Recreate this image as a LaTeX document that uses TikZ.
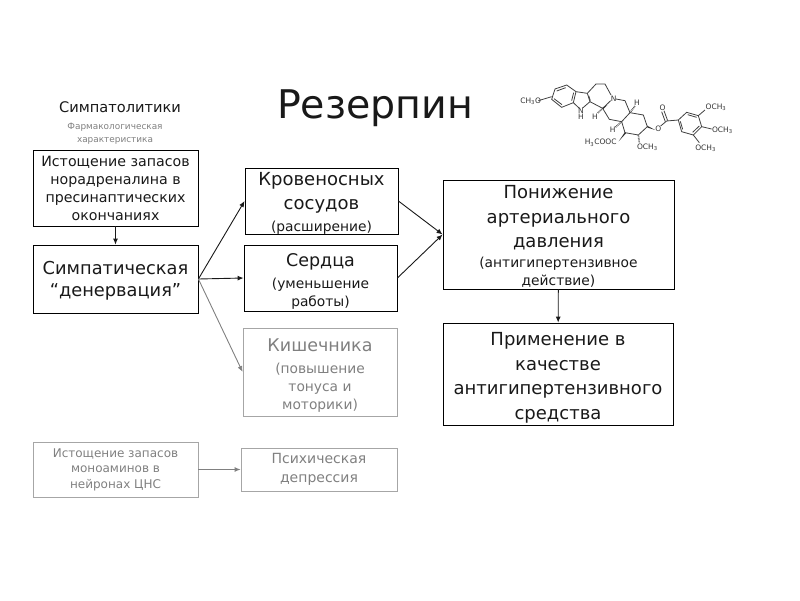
\documentclass[tikz,border=0pt]{standalone}
\usepackage{fontspec}
\setmainfont{DejaVu Sans}
\usetikzlibrary{arrows.meta}
\usetikzlibrary{calc}

\newcommand{\fsub}{\fontsize{13.8}{18}\selectfont}
\newcommand{\padtop}[1]{\rule{0pt}{#1pt}}

\tikzset{
  stepbox/.style={draw=black, line width=0.8pt, rectangle, align=center, inner sep=0pt, text=black!90},
  fadedbox/.style={stepbox, draw=black!35, text=black!50},
  link/.style={draw=black!90, line width=0.9pt, -{Latex[length=6pt,width=5pt]}},
  fadedlink/.style={link, draw=black!50},
  bond/.style={line width=0.8pt, draw=black!75},
  hashbond/.style={line width=1.6pt, draw=black!70, dash pattern=on 0.7pt off 0.8pt},
  atom/.style={font=\fontsize{7.5}{9}\selectfont, text=black!80, inner sep=0pt}
}

\begin{document}
\begin{tikzpicture}[x=1pt, y=-1pt]

        \useasboundingbox (0,0) rectangle (800,600);

        % Titles
        \node[inner sep=0pt, font=\fontsize{39.5}{46}\selectfont, text=black!90] (title) at (375,108) {Резерпин};
        \node[inner sep=0pt, font=\fontsize{14.6}{16}\selectfont, text=black!90] (group) at (120,107) {Симпатолитики};
        \node[inner sep=0pt, align=center, font=\fontsize{8.9}{13}\selectfont, text=black!50] (pharm) at (115,134) {Фармакологическая\\характеристика};

        % Left column
        \node[stepbox, minimum width=165pt, minimum height=76pt, font=\fontsize{14.2}{18}\selectfont] (depot) at (115.5,188) {Истощение запасов\\норадреналина в\\пресинаптических\\окончаниях};
        \node[stepbox, minimum width=165pt, minimum height=68pt, font=\fontsize{17.8}{22}\selectfont] (denerv) at (115.5,279) {\padtop{16}Симпатическая\\“денервация”};
        \node[fadedbox, minimum width=165pt, minimum height=55pt, font=\fontsize{12}{15.5}\selectfont] (mono) at (115.5,469.5) {Истощение запасов\\моноаминов в\\нейронах ЦНС};

        % Middle column
        \node[stepbox, minimum width=153pt, minimum height=66pt, font=\fontsize{18}{24}\selectfont] (vessels) at (321.5,201) {\padtop{17}Кровеносных\\сосудов\\[-2pt]{\fsub (расширение)}};
        \node[stepbox, minimum width=153pt, minimum height=66pt, font=\fontsize{17.5}{18}\selectfont] (heart) at (320.5,278) {\padtop{20}Сердца\\[4pt]{\fsub (уменьшение}\\{\fsub работы)}};
        \node[fadedbox, minimum width=154pt, minimum height=88pt, font=\fontsize{17.5}{18}\selectfont] (bowel) at (320,372) {\padtop{20}Кишечника\\[4pt]{\fsub (повышение}\\{\fsub тонуса и}\\{\fsub моторики)}};
        \node[fadedbox, minimum width=156pt, minimum height=43pt, font=\fontsize{14}{19}\selectfont] (depress) at (319,469.5) {Психическая\\депрессия};

        % Right column
        \node[stepbox, minimum width=231pt, minimum height=109pt, font=\fontsize{18}{24.5}\selectfont] (press) at (558.5,234.5) {\padtop{17}Понижение\\артериального\\давления\\[-4.5pt]{\fsub (антигипертензивное}\\[-6.5pt]{\fsub действие)}};
        \node[stepbox, minimum width=230pt, minimum height=102pt, font=\fontsize{18}{24.5}\selectfont] (use) at (558,374) {\padtop{21}Применение в\\качестве\\антигипертензивного\\средства};

        % Arrows between boxes
        \draw[link] (depot) -- (denerv);
        \foreach \target in {vessels, heart} {
          \draw[link] (denerv.east) -- (\target.west);
          \draw[link] (\target.east) -- (press.west);
        }
        \draw[fadedlink] (denerv.east) -- (bowel.west);
        \draw[fadedlink] (mono) -- (depress);
        \draw[link] (press) -- (use);

        % Structural formula, traced in units of a third of a pixel
        \begin{scope}[shift={(510pt,-80pt)}, x=0.3333pt, y=-0.3333pt]
          % Indole part
          \draw[bond] (135,27) -- (170,15) -- (198,35) -- (190,68) -- (155,82) -- (125,58) -- cycle;
          \draw[bond] (140,33) -- (167,23) (191,38) -- (185,62) (156,74) -- (132,56);
          \draw[bond] (198,35) -- (232,40) -- (240,65) -- (218,84) (207,84) -- (190,68);
          \draw[bond] (236,47) -- (241,62);
          % Ring with nitrogen
          \draw[bond] (232,40) -- (258,12) -- (285,12) -- (303,45) (240,65) -- (278,85) -- (302,62);
          \draw[bond] (318,57) -- (345,62) -- (360,98) -- (335,125) -- (298,118) -- (278,85);
          % Last saturated ring
          \draw[bond] (360,98) -- (400,105) -- (412,140) -- (385,165) -- (345,158) -- (335,125);
          % Stereo bonds
          \draw[hashbond] (278,85) -- (262,100);
          \draw[hashbond] (360,98) -- (375,78);
          \draw[hashbond] (335,125) -- (316,142);
          \draw[hashbond] (385,165) -- (388,188);
          \fill[black!80] (345,156) -- (348,160) -- (326,184) -- cycle;
          \fill[black!80] (411,137) -- (413,143) -- (436,150) -- cycle;
          \fill[black!80] (278,83) -- (280,87) -- (292,75) -- cycle;
          % Ester and trimethoxyphenyl
          \draw[bond] (452,138) -- (470,123) -- (505,120);
          \draw[bond] (473,122) -- (462,92) (466,125) -- (455,95);
          \draw[bond] (505,120) -- (530,97) -- (565,107) -- (575,140) -- (550,165) -- (515,155) -- cycle;
          \draw[bond] (533,104) -- (560,112) (568,138) -- (548,157) (518,148) -- (511,124);
          \draw[bond] (565,107) -- (585,90) (575,140) -- (605,147) (550,165) -- (568,188);
          \draw[bond] (85,62) -- (125,50);
          % Atom labels
          \node[atom] (ometh) at (62,63) {CH\textsubscript{3}O};
          \node[atom] (nring) at (311,55) {N};
          \node[atom] (nh) at (213,102) {\shortstack{N\\[-2pt]H}};
          \node[atom] (hone) at (255,110) {H};
          \node[atom] (htwo) at (381,68) {H};
          \node[atom] (hthree) at (308,150) {H};
          \node[atom] (ester) at (272,188) {H\textsubscript{3}COOC};
          \node[atom] (omid) at (412,202) {OCH\textsubscript{3}};
          \node[atom] (olink) at (445,146) {O};
          \node[atom] (ocarb) at (458,82) {O};
          \node[atom] (oa) at (618,82) {OCH\textsubscript{3}};
          \node[atom] (ob) at (637,150) {OCH\textsubscript{3}};
          \node[atom] (oc) at (587,205) {OCH\textsubscript{3}};
        \end{scope}

      \end{tikzpicture}
\end{document}
